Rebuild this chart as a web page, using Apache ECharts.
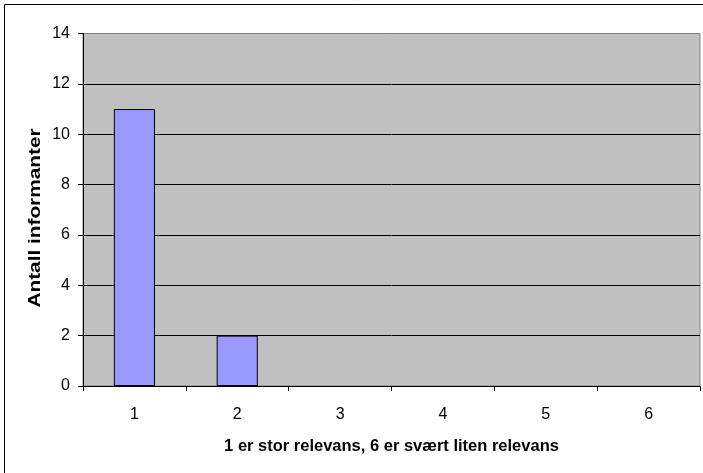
<!DOCTYPE html>
<html>
<head>
<meta charset="utf-8">
<script src="https://cdn.jsdelivr.net/npm/echarts@6/dist/echarts.min.js"></script>
<style>
  html, body { margin: 0; padding: 0; background: #fff; }
  #chart { width: 703px; height: 473px; }
</style>
</head>
<body>
<div id="chart"></div>
<script>
// Relevance score (1 = high relevance, 6 = very low relevance)
const categories = ['1', '2', '3', '4', '5', '6'];
// Number of informants per score
const informants = [11, 2, 0, 0, 0, 0];
const yTicks = { min: 0, max: 14, interval: 2 };
const xTitle = '1 er stor relevans, 6 er svært liten relevans';
const yTitle = 'Antall informanter';

const font = 'Liberation Sans, Arial, sans-serif';
const chart = echarts.init(document.getElementById('chart'), null, { renderer: 'canvas' });

// Empty categories get no outline so they do not show as a flat line
const barData = informants.map(v => v === 0
  ? { value: v, itemStyle: { borderWidth: 0, color: 'transparent' } }
  : v);

chart.setOption({
  animation: false,
  backgroundColor: '#ffffff',
  graphic: [{
    type: 'rect',
    shape: { x: 4.5, y: 4.5, width: 720, height: 480 },
    style: { fill: 'none', stroke: '#000', lineWidth: 1 },
    silent: true
  }, {
    type: 'text',
    x: 36, y: 218,
    rotation: Math.PI / 2,
    scaleX: 1.3,
    style: {
      text: yTitle,
      fontFamily: font, fontSize: 16, fontWeight: 'bold', fill: '#000',
      align: 'center', verticalAlign: 'middle'
    },
    silent: true
  }],
  grid: {
    left: 83, right: 3, top: 33.5, bottom: 87,
    show: true, backgroundColor: '#C0C0C0', borderColor: '#808080', borderWidth: 1
  },
  xAxis: {
    type: 'category',
    data: categories,
    name: xTitle,
    nameLocation: 'middle',
    nameGap: 52,
    nameTextStyle: { fontFamily: font, fontSize: 16.5, fontWeight: 'bold', color: '#000' },
    axisLine: { lineStyle: { color: '#000', width: 1 } },
    axisTick: { show: true, length: 5, lineStyle: { color: '#000' } },
    axisLabel: { fontFamily: font, fontSize: 16, color: '#000', margin: 21 },
    splitLine: { show: false }
  },
  yAxis: {
    type: 'value',
    min: yTicks.min, max: yTicks.max, interval: yTicks.interval,
    axisLine: { show: true, lineStyle: { color: '#000', width: 1 } },
    axisTick: { show: true, length: 5, lineStyle: { color: '#000' } },
    axisLabel: { fontFamily: font, fontSize: 16, color: '#000', margin: 13 },
    splitLine: {
      show: true,
      lineStyle: { color: ['#000', '#000', '#000', '#000', '#000', '#000', '#000', '#808080'], width: 1 }
    }
  },
  series: [{
    type: 'bar',
    data: barData,
    barWidth: '40%',
    itemStyle: { color: '#9999FF', borderColor: '#000', borderWidth: 1 }
  }]
});
</script>
</body>
</html>
